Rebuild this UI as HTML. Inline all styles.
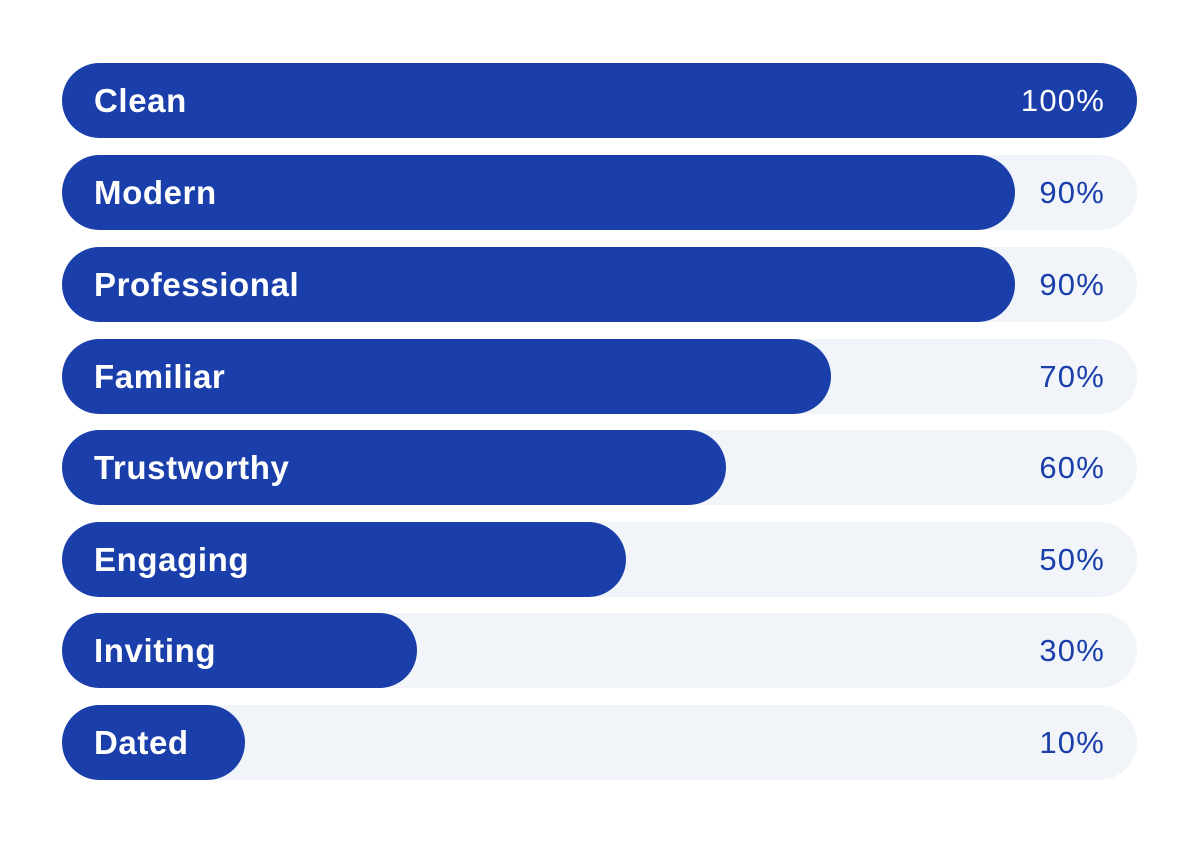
<!DOCTYPE html>
<html><head><style>
html,body{margin:0;padding:0;background:#fff;}
body{width:1200px;height:843px;position:relative;overflow:hidden;font-family:"Liberation Sans",sans-serif;}
.track{position:absolute;left:62px;width:1075px;height:75px;border-radius:38px;background:#f1f5f9;}
.bar{position:absolute;left:0;top:0;height:75px;border-radius:38px;background:#1a3faa;}
.lab{position:absolute;left:32px;top:0;line-height:75px;color:#fff;font-weight:bold;font-size:33px;letter-spacing:0.6px;}
.pct{position:absolute;right:32px;top:0;line-height:75px;color:#1a3faa;font-size:31px;letter-spacing:1.2px;}
</style></head><body>
<div class="track" style="top:63px"><div class="bar" style="width:1075px"></div><div class="lab">Clean</div><div class="pct" style="color:#fff">100%</div></div>
<div class="track" style="top:155px"><div class="bar" style="width:953px"></div><div class="lab">Modern</div><div class="pct">90%</div></div>
<div class="track" style="top:247px"><div class="bar" style="width:953px"></div><div class="lab">Professional</div><div class="pct">90%</div></div>
<div class="track" style="top:339px"><div class="bar" style="width:769px"></div><div class="lab">Familiar</div><div class="pct">70%</div></div>
<div class="track" style="top:430px"><div class="bar" style="width:664px"></div><div class="lab">Trustworthy</div><div class="pct">60%</div></div>
<div class="track" style="top:522px"><div class="bar" style="width:564px"></div><div class="lab">Engaging</div><div class="pct">50%</div></div>
<div class="track" style="top:613px"><div class="bar" style="width:355px"></div><div class="lab">Inviting</div><div class="pct">30%</div></div>
<div class="track" style="top:705px"><div class="bar" style="width:183px"></div><div class="lab">Dated</div><div class="pct">10%</div></div>
</body></html>
